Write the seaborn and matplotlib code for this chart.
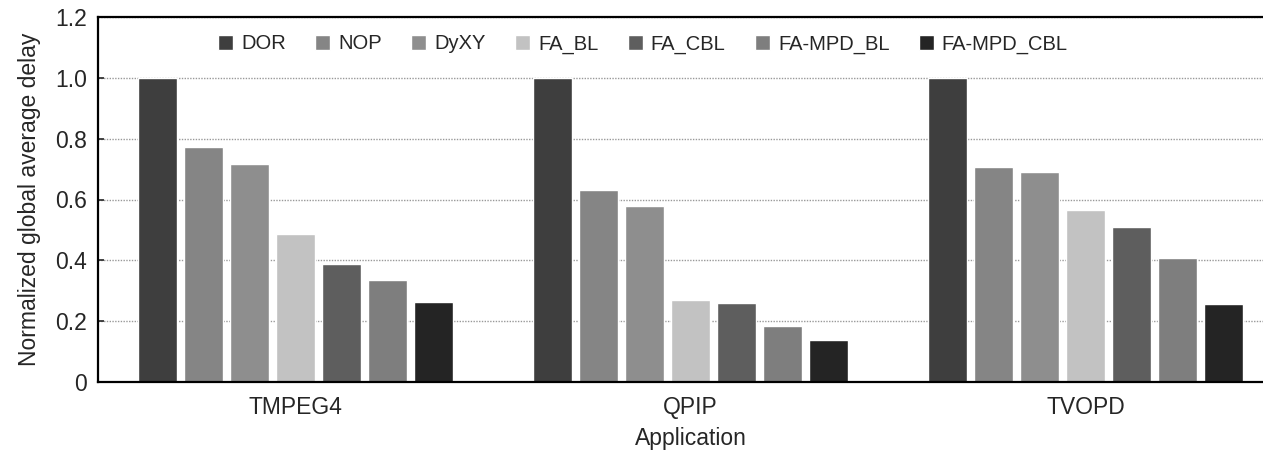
import pandas as pd
import matplotlib
matplotlib.use("Agg")
import matplotlib.pyplot as plt
import seaborn as sns

applications = ["TMPEG4", "QPIP", "TVOPD"]
schemes = ["DOR", "NOP", "DyXY", "FA_BL", "FA_CBL", "FA-MPD_BL", "FA-MPD_CBL"]

dor = [1.0, 1.0, 1.0]
nop = [0.773, 0.63, 0.708]
dyxy = [0.717, 0.58, 0.689]
fa_bl = [0.487, 0.27, 0.566]
fa_cbl = [0.388, 0.261, 0.508]
fa_mpd_bl = [0.334, 0.184, 0.407]
fa_mpd_cbl = [0.264, 0.137, 0.256]

colors = ["#3e3e3e", "#858585", "#8e8e8e", "#c2c2c2", "#5e5e5e", "#7e7e7e", "#242424"]

series = [dor, nop, dyxy, fa_bl, fa_cbl, fa_mpd_bl, fa_mpd_cbl]
rows = []
for name, vals in zip(schemes, series):
    for app, v in zip(applications, vals):
        rows.append({"Application": app, "Scheme": name, "Delay": v})
df = pd.DataFrame(rows)

sns.set_style("white")
plt.rcParams["font.family"] = ["Liberation Sans", "DejaVu Sans"]

fig = plt.figure(figsize=(12.63, 4.62), dpi=100)
ax = fig.add_axes([98 / 1263, 80 / 462, 1185 / 1263, 365 / 462])

sns.barplot(data=df, x="Application", y="Delay", hue="Scheme", hue_order=schemes,
            order=applications, palette=colors, width=0.815, gap=0.17,
            saturation=1, ax=ax, legend=True)

ax.set_xlim(-0.5, 2.5)
ax.set_ylim(0, 1.2)
ax.set_yticks([0, 0.2, 0.4, 0.6, 0.8, 1.0, 1.2])
ax.set_yticklabels(["0", "0.2", "0.4", "0.6", "0.8", "1.0", "1.2"])
ax.yaxis.grid(True, linestyle=(0, (1, 1)), color="#999999", linewidth=1)
ax.set_axisbelow(True)
for s in ["left", "bottom", "top"]:
    ax.spines[s].set_visible(True)
    ax.spines[s].set_color("black")
    ax.spines[s].set_linewidth(1.6)
ax.tick_params(axis="y", direction="in", length=4, width=1.2, labelsize=16.5, pad=8, left=True)
ax.tick_params(axis="x", length=0, labelsize=16.5, pad=10)
ax.set_xlabel("Application", fontsize=16.5, labelpad=6)
ax.set_ylabel("Normalized global average delay", fontsize=16.5, labelpad=10)

ax.legend(loc="center", bbox_to_anchor=(643 / 1263, 1 - 44 / 462), bbox_transform=fig.transFigure,
          ncol=7, frameon=False, fontsize=14.5, handlelength=0.75, handleheight=0.75,
          handletextpad=0.4, columnspacing=1.45)

fig.savefig("out.png", dpi=100)
